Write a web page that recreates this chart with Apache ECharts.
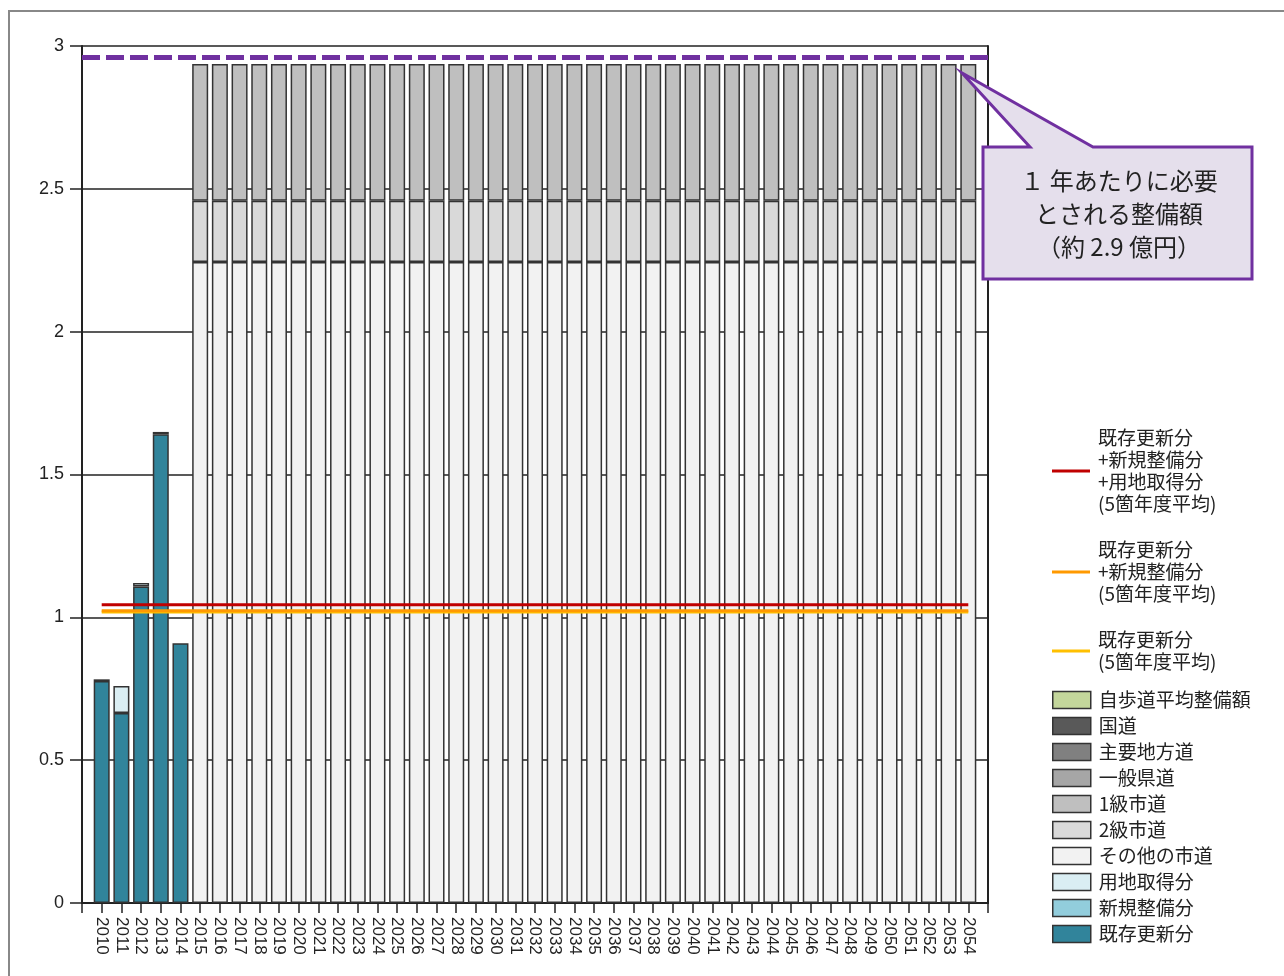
<!DOCTYPE html>
<html>
<head>
  <meta charset="UTF-8">
  <title>整備額の推移</title>
  <style>
    html, body { margin: 0; padding: 0; background: #fff; }
    #chart { width: 1284px; height: 976px; }
  </style>
  <script src="https://cdn.jsdelivr.net/npm/echarts@6/dist/echarts.min.js"></script>
</head>
<body>
<div id="chart"></div>
<script>
  // years on the x axis
  var years = [2010, 2011, 2012, 2013, 2014, 2015, 2016, 2017, 2018, 2019,
    2020, 2021, 2022, 2023, 2024, 2025, 2026, 2027, 2028, 2029,
    2030, 2031, 2032, 2033, 2034, 2035, 2036, 2037, 2038, 2039,
    2040, 2041, 2042, 2043, 2044, 2045, 2046, 2047, 2048, 2049,
    2050, 2051, 2052, 2053, 2054];

  // actual spending 2010-2014 (億円)
  var kizon  = [0.777, 0.665, 1.108, 1.641, 0.909];
  var shinki = [0.006, null, null, 0.008, null];
  var youchi = [null, 0.095, 0.012, null, null];

  // required spending by road class, 2015-2054
  var sonota = [2.244, 2.244, 2.244, 2.244, 2.244, 2.244, 2.244, 2.244, 2.244, 2.244,
    2.244, 2.244, 2.244, 2.244, 2.244, 2.244, 2.244, 2.244, 2.244, 2.244,
    2.244, 2.244, 2.244, 2.244, 2.244, 2.244, 2.244, 2.244, 2.244, 2.244,
    2.244, 2.244, 2.244, 2.244, 2.244, 2.244, 2.244, 2.244, 2.244, 2.244];
  var kyu2 = [0.214, 0.214, 0.214, 0.214, 0.214, 0.214, 0.214, 0.214, 0.214, 0.214,
    0.214, 0.214, 0.214, 0.214, 0.214, 0.214, 0.214, 0.214, 0.214, 0.214,
    0.214, 0.214, 0.214, 0.214, 0.214, 0.214, 0.214, 0.214, 0.214, 0.214,
    0.214, 0.214, 0.214, 0.214, 0.214, 0.214, 0.214, 0.214, 0.214, 0.214];
  var kyu1 = [0.479, 0.479, 0.479, 0.479, 0.479, 0.479, 0.479, 0.479, 0.479, 0.479,
    0.479, 0.479, 0.479, 0.479, 0.479, 0.479, 0.479, 0.479, 0.479, 0.479,
    0.479, 0.479, 0.479, 0.479, 0.479, 0.479, 0.479, 0.479, 0.479, 0.479,
    0.479, 0.479, 0.479, 0.479, 0.479, 0.479, 0.479, 0.479, 0.479, 0.479];

  // 5-year averages and the required yearly amount
  var avgAll = 1.044;
  var avgKizonShinki = 1.023;
  var avgKizon = 1.019;
  var requiredYearly = 2.96;

  var yTicks = [0, 0.5, 1, 1.5, 2, 2.5, 3];

  // an empty slot at each end leaves the half-step margin inside the frame
  var cats = [''].concat(years.map(String), ['']);
  var nActual = kizon.length;

  function actualData(vs) {
    return cats.map(function (c, i) { return (i >= 1 && i <= nActual) ? vs[i - 1] : null; });
  }
  function futureData(vs) {
    return cats.map(function (c, i) {
      return (i > nActual && i <= years.length) ? vs[i - 1 - nActual] : null;
    });
  }
  function emptyData() {
    return cats.map(function () { return null; });
  }
  function flat(v) {
    return cats.map(function (c) { return c === '' ? null : v; });
  }

  function barSeries(name, color, data) {
    return {
      name: name,
      type: 'bar',
      stack: 'total',
      barWidth: 16,
      itemStyle: { color: color, borderColor: '#333', borderWidth: 1.5 },
      emphasis: { disabled: true },
      data: data
    };
  }
  function lineSeries(name, color, v, z) {
    return {
      name: name,
      type: 'line',
      showSymbol: false,
      z: z,
      itemStyle: { color: color },
      lineStyle: { color: color, width: 3 },
      data: flat(v)
    };
  }

  var font = "'Noto Sans CJK JP', sans-serif";
  var lineNames = {
    'avgAll': '既存更新分\n+新規整備分\n+用地取得分\n(5箇年度平均)',
    'avgKS': '既存更新分\n+新規整備分\n(5箇年度平均)',
    'avgK': '既存更新分\n(5箇年度平均)'
  };

  var chart = echarts.init(document.getElementById('chart'));
  var option = {
    backgroundColor: '#fff',
    animation: false,
    grid: { left: 82, right: 296, top: 46, bottom: 73 },
    xAxis: {
      type: 'category',
      data: cats,
      boundaryGap: false,
      splitLine: { show: false },
      axisLine: { show: true, lineStyle: { color: '#222', width: 2 } },
      axisTick: { show: true, interval: 0, length: 10, lineStyle: { color: '#222', width: 1.5 } },
      axisLabel: {
        interval: 0,
        rotate: -90,
        margin: 14,
        fontSize: 17,
        color: '#222',
        fontFamily: "'Liberation Sans', Arial, sans-serif"
      }
    },
    yAxis: [{
      type: 'value',
      min: yTicks[0],
      max: yTicks[yTicks.length - 1],
      interval: 0.5,
      axisLine: { show: true, lineStyle: { color: '#222', width: 2 } },
      axisTick: { show: true, length: 12, lineStyle: { color: '#222', width: 1.5 } },
      splitLine: { show: true, lineStyle: { color: '#222', width: 1.5 } },
      axisLabel: {
        margin: 18,
        fontSize: 18,
        color: '#222',
        fontFamily: "'Liberation Sans', Arial, sans-serif"
      }
    }, {
      type: 'value',
      position: 'right',
      min: yTicks[0],
      max: yTicks[yTicks.length - 1],
      interval: 0.5,
      axisLine: { show: true, lineStyle: { color: '#222', width: 2 } },
      axisTick: { show: false },
      axisLabel: { show: false },
      splitLine: { show: false }
    }],
    legend: [{
      orient: 'vertical',
      left: 1052,
      top: 427,
      padding: 0,
      itemWidth: 38,
      itemHeight: 3,
      itemGap: 24,
      icon: 'rect',
      selectedMode: false,
      data: ['avgAll', 'avgKS', 'avgK'],
      formatter: function (n) { return lineNames[n]; },
      textStyle: { fontSize: 19, lineHeight: 22, color: '#222', fontFamily: font, padding: [0, 0, 0, 3] }
    }, {
      orient: 'vertical',
      left: 1052,
      top: 690,
      padding: 0,
      itemWidth: 38,
      itemHeight: 17,
      itemGap: 6,
      icon: 'rect',
      selectedMode: false,
      itemStyle: { borderColor: '#333', borderWidth: 1.5 },
      data: ['自歩道平均整備額', '国道', '主要地方道', '一般県道', '1級市道', '2級市道',
        'その他の市道', '用地取得分', '新規整備分', '既存更新分'],
      textStyle: { fontSize: 19, lineHeight: 20, color: '#222', fontFamily: font, padding: [0, 0, 0, 3] }
    }],
    series: [
      barSeries('既存更新分', '#31849B', actualData(kizon)),
      barSeries('新規整備分', '#92CDDC', actualData(shinki)),
      barSeries('用地取得分', '#DAEEF3', actualData(youchi)),
      barSeries('その他の市道', '#F2F2F2', futureData(sonota)),
      barSeries('2級市道', '#D9D9D9', futureData(kyu2)),
      barSeries('1級市道', '#BFBFBF', futureData(kyu1)),
      barSeries('一般県道', '#A6A6A6', emptyData()),
      barSeries('主要地方道', '#808080', emptyData()),
      barSeries('国道', '#595959', emptyData()),
      barSeries('自歩道平均整備額', '#C3D69B', emptyData()),
      lineSeries('avgK', '#FFC000', avgKizon, 3),
      lineSeries('avgKS', '#FF9900', avgKizonShinki, 4),
      {
        name: 'avgAll',
        type: 'line',
        showSymbol: false,
        z: 5,
        itemStyle: { color: '#C00000' },
        lineStyle: { color: '#C00000', width: 3 },
        data: flat(avgAll),
        markLine: {
          silent: true,
          symbol: ['none', 'none'],
          label: { show: false },
          lineStyle: { color: '#7030A0', width: 5, type: [18, 6] },
          data: [{ yAxis: requiredYearly }]
        }
      }
    ],
    graphic: [{
      type: 'rect',
      silent: true,
      shape: { x: 9, y: 11, width: 1300, height: 1000 },
      style: { fill: null, stroke: '#888', lineWidth: 2 }
    }, {
      type: 'polygon',
      silent: true,
      z: 100,
      shape: {
        points: [[983, 147], [1030, 147], [962, 73], [1093, 147], [1252, 147], [1252, 279], [983, 279]]
      },
      style: { fill: '#E5DFEC', stroke: '#7030A0', lineWidth: 3, lineJoin: 'miter' }
    }, {
      type: 'text',
      silent: true,
      z: 101,
      x: 1119,
      y: 214,
      style: {
        text: '１ 年あたりに必要\nとされる整備額\n（約 2.9 億円）',
        fill: '#222',
        font: "24px 'Noto Sans CJK JP', sans-serif",
        lineHeight: 33,
        align: 'center',
        verticalAlign: 'middle'
      }
    }]
  };
  chart.setOption(option);
</script>
</body>
</html>
